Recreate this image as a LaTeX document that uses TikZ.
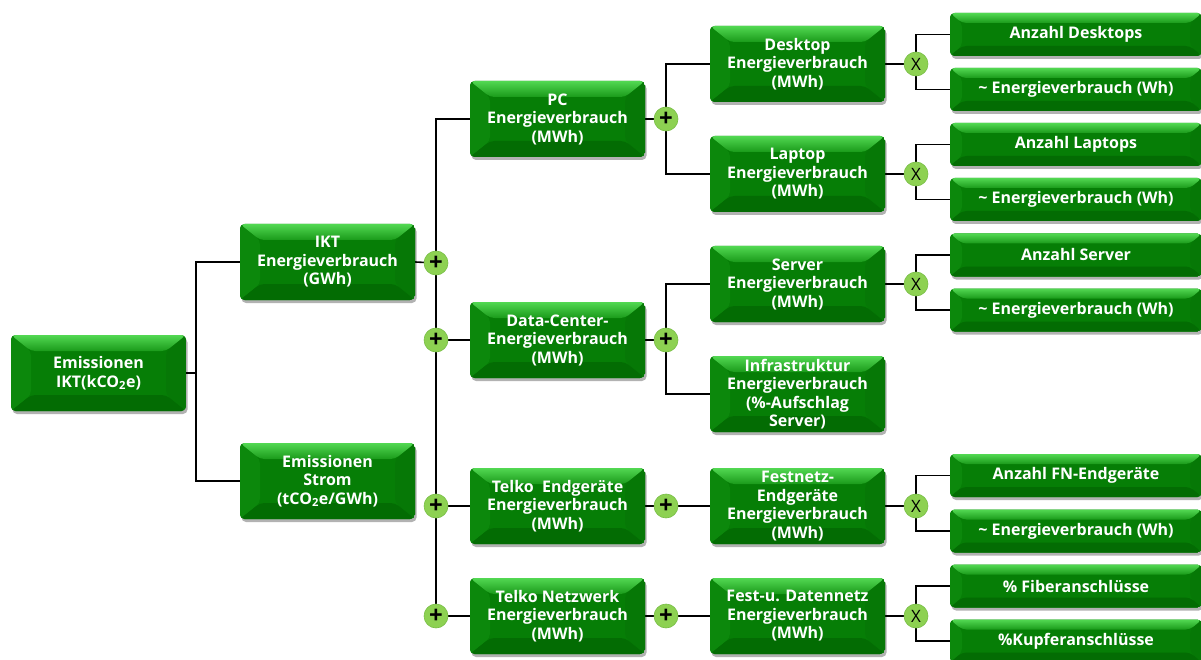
\documentclass[tikz,border=0pt]{standalone}
\usepackage{fontspec}
\setmainfont{Open Sans}
\usetikzlibrary{shadows,backgrounds}
\definecolor{gmid}{HTML}{067E06}
\definecolor{gtop}{HTML}{52D852}
\definecolor{gtopb}{HTML}{1A9A1A}
\definecolor{gleft}{HTML}{0C880C}
\definecolor{gright}{HTML}{067806}
\definecolor{gbot}{HTML}{036C03}
\definecolor{opfill}{HTML}{8DD152}
\definecolor{opline}{HTML}{78BE45}
\tikzset{
  bevel/.style n args={2}{path picture={
    \coordinate (ppA) at (path picture bounding box.north west);
    \coordinate (ppB) at (path picture bounding box.north east);
    \coordinate (ppC) at (path picture bounding box.south east);
    \coordinate (ppD) at (path picture bounding box.south west);
    \coordinate (ppa) at ([shift={(#1,-#2)}]ppA);
    \coordinate (ppb) at ([shift={(-#1,-#2)}]ppB);
    \coordinate (ppc) at ([shift={(-#1,#2)}]ppC);
    \coordinate (ppd) at ([shift={(#1,#2)}]ppD);
    \fill[gmid] (ppA) rectangle (ppC);
    \fill[gleft] (ppA) -- (ppa) -- (ppd) -- (ppD) -- cycle;
    \fill[gright] (ppB) -- (ppb) -- (ppc) -- (ppC) -- cycle;
    \fill[gbot] (ppD) -- (ppd) -- (ppc) -- (ppC) -- cycle;
    \shade[top color=gtop, bottom color=gtopb] (ppA) -- (ppB) -- (ppb) -- (ppa) -- cycle;
  }},
  box/.style={rounded corners=4.5pt, minimum width=175pt, minimum height=76pt,
    inner sep=0pt, align=center, text=white,
    font=\bfseries\fontsize{16}{18.5}\selectfont,
    drop shadow={shadow xshift=1.5pt, shadow yshift=-3pt, opacity=0.3, fill=black},
    bevel={20pt}{16pt}},
  rbox/.style={box, minimum width=252pt, minimum height=43pt, bevel={12pt}{10pt}},
  op/.style={circle, fill=opfill, draw=opline, line width=.6pt, minimum size=24pt,
    inner sep=0pt, text=black},
  plus/.style={op, font=\bfseries\fontsize{24}{24}\selectfont},
  times/.style={op, font=\fontsize{17}{17}\selectfont},
  conn/.style={draw=black, line width=1.6pt}
}
\begin{document}
\begin{tikzpicture}[x=1pt,y=-1pt]
\useasboundingbox (0,0) rectangle (1201,660);
% level 0/1
\node[box] (root) at (98.5,373) {Emissionen\\IKT(kCO\textsubscript{2}e)};
\node[box] (ikt) at (327.5,262) {IKT\\Energieverbrauch\\(GWh)};
\node[box] (strom) at (327.5,481) {Emissionen\\Strom\\(tCO\textsubscript{2}e/GWh)};
% level 2
\node[box] (pc) at (557.5,119) {PC\\Energieverbrauch\\(MWh)};
\node[box] (dc) at (557.5,340) {Data-Center-\\Energieverbrauch\\(MWh)};
\node[box] (te) at (557.5,506) {Telko\ \ Endgeräte\\Energieverbrauch\\(MWh)};
\node[box] (tn) at (557.5,616) {Telko Netzwerk\\Energieverbrauch\\(MWh)};
% level 3
\node[box] (desk) at (797.5,64) {Desktop\\Energieverbrauch\\(MWh)};
\node[box] (lap) at (797.5,174) {Laptop\\Energieverbrauch\\(MWh)};
\node[box] (srv) at (797.5,284) {Server\\Energieverbrauch\\(MWh)};
\node[box] (infra) at (797.5,394) {Infrastruktur\\Energieverbrauch\\(\%-Aufschlag\\Server)};
\node[box] (fest) at (797.5,506) {Festnetz-\\Endgeräte\\Energieverbrauch\\(MWh)};
\node[box] (fud) at (797.5,616) {Fest-u. Datennetz\\Energieverbrauch\\(MWh)};
% level 4
\node[rbox] (r1) at (1076,34.5) {Anzahl Desktops};
\node[rbox] (r2) at (1076,89.5) {\textasciitilde{} Energieverbrauch (Wh)};
\node[rbox] (r3) at (1076,144.5) {Anzahl Laptops};
\node[rbox] (r4) at (1076,199.5) {\textasciitilde{} Energieverbrauch (Wh)};
\node[rbox] (r5) at (1076,255) {Anzahl Server};
\node[rbox] (r6) at (1076,310) {\textasciitilde{} Energieverbrauch (Wh)};
\node[rbox] (r7) at (1076,475.5) {Anzahl FN-Endgeräte};
\node[rbox] (r8) at (1076,531) {\textasciitilde{} Energieverbrauch (Wh)};
\node[rbox] (r9) at (1076,586) {\% Fiberanschlüsse};
\node[rbox] (r10) at (1076,641) {\%Kupferanschlüsse};
% operators
\node[plus] (p1) at (436,263) {+};
\node[plus] (p2) at (436,340) {+};
\node[plus] (p3) at (436,506) {+};
\node[plus] (p4) at (436,616) {+};
\node[plus] (q1) at (666,119) {+};
\node[plus] (q2) at (666,340) {+};
\node[plus] (q3) at (666,506) {+};
\node[plus] (q4) at (666,616) {+};
\node[times] (x1) at (916,64) {X};
\node[times] (x2) at (916,174) {X};
\node[times] (x3) at (916,284) {X};
\node[times] (x4) at (916,506) {X};
\node[times] (x5) at (916,616) {X};
\coordinate (j0) at (196,373);
\begin{scope}[on background layer]
\draw[conn] (root.east) -- (j0);
\draw[conn] (ikt.west) -| (j0) |- (strom.west);
\draw[conn] (ikt.east) -- (p1.center);
\draw[conn] (pc.west) -| (p4.center);
\draw[conn] (p2.center) -- (dc.west);
\draw[conn] (p3.center) -- (te.west);
\draw[conn] (p4.center) -- (tn.west);
\draw[conn] (pc.east) -- (q1.center);
\draw[conn] (desk.west) -| (q1.center) |- (lap.west);
\draw[conn] (dc.east) -- (q2.center);
\draw[conn] (srv.west) -| (q2.center) |- (infra.west);
\draw[conn] (te.east) -- (q3.center) -- (fest.west);
\draw[conn] (tn.east) -- (q4.center) -- (fud.west);
\draw[conn] (desk.east) -- (x1.center);
\draw[conn] (r1.west) -| (x1.center) |- (r2.west);
\draw[conn] (lap.east) -- (x2.center);
\draw[conn] (r3.west) -| (x2.center) |- (r4.west);
\draw[conn] (srv.east) -- (x3.center);
\draw[conn] (r5.west) -| (x3.center) |- (r6.west);
\draw[conn] (fest.east) -- (x4.center);
\draw[conn] (r7.west) -| (x4.center) |- (r8.west);
\draw[conn] (fud.east) -- (x5.center);
\draw[conn] (r9.west) -| (x5.center) |- (r10.west);
\end{scope}
\end{tikzpicture}
\end{document}
